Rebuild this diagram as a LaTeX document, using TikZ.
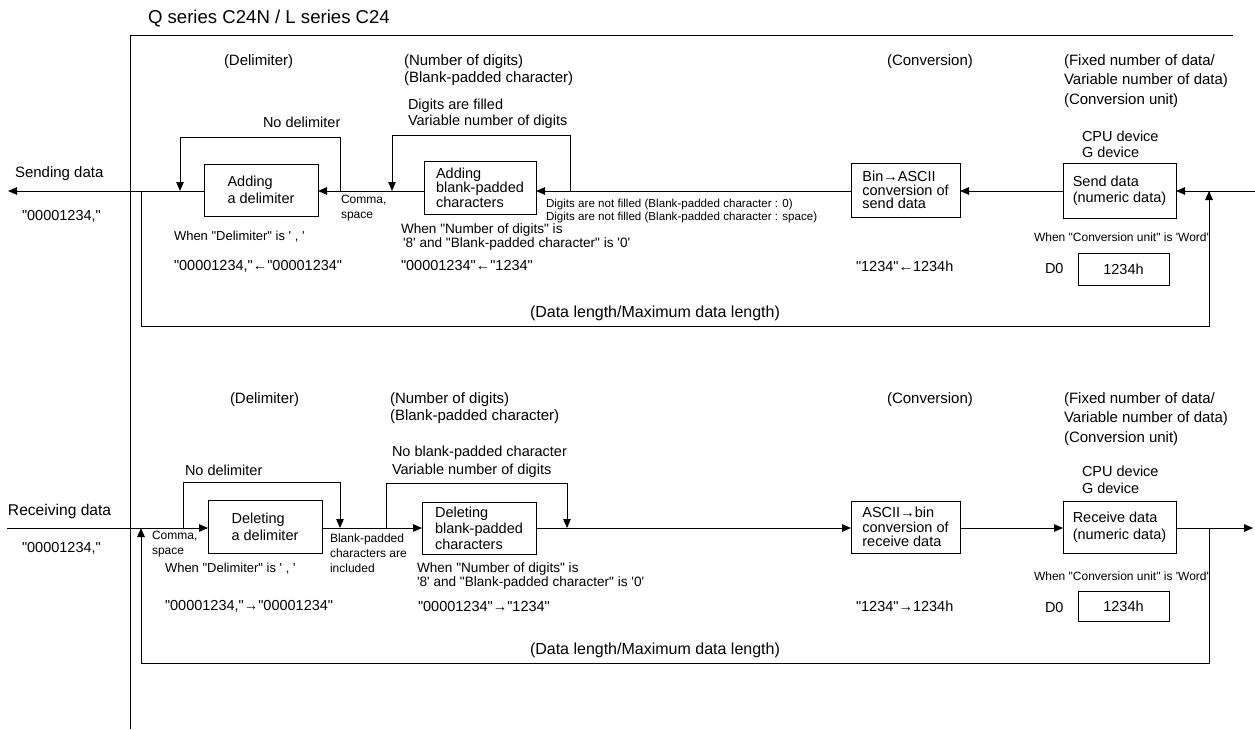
\documentclass[tikz,border=0pt]{standalone}
\usepackage{fontspec}
\newfontfamily\af{Liberation Sans}
\usetikzlibrary{arrows.meta}
\begin{document}
\begin{tikzpicture}[x=1pt,y=-1pt,
  every node/.style={inner sep=0pt,outer sep=0pt},
  ln/.style={line width=1pt},
  arr/.style={ln,-{Triangle[length=9pt,width=7.5pt]}},
  ttl/.style={anchor=west,font=\af\fontsize{18.6}{21}\selectfont},
  hdr/.style={anchor=west,align=left,font=\af\fontsize{15}{#1}\selectfont},
  hdr/.default=17,
  lbl/.style={anchor=west,align=left,font=\af\fontsize{14.5}{#1}\selectfont},
  lbl/.default=16,
  nte/.style={anchor=west,align=left,font=\af\fontsize{13}{#1}\selectfont},
  nte/.default=14,
  sml/.style={anchor=west,align=left,font=\af\fontsize{12}{#1}\selectfont},
  sml/.default=15,
  boxn/.style={draw,line width=1pt,align=left,font=\af\fontsize{14.5}{#1}\selectfont},
  boxn/.default=16,
  valbox/.style={draw,line width=1pt,font=\af\fontsize{14.5}{16}\selectfont,minimum width=91pt}
]
\useasboundingbox (0,0) rectangle (1255,729);

% ---------- frame ----------
\coordinate (F1) at (1233,35);
\coordinate (F2) at (130,35);
\coordinate (F3) at (130,729);
\draw[ln] (F1) -- (F2) -- (F3);
\node[ttl] (title) at (148,19) {Q series C24N / L series C24};

% ================= SENDING =================
\node[hdr] (hd1) at (224,62) {(Delimiter)};
\node[hdr] (hn1) at (404,70.5) {(Number of digits)\\(Blank-padded character)};
\node[hdr] (hc1) at (887,62) {(Conversion)};
\node[hdr=19.5] (hf1) at (1064,81) {(Fixed number of data/\\Variable number of data)\\(Conversion unit)};

\node[lbl] (nd1) at (263,122) {No delimiter};
\node[lbl] (df1) at (408,114) {Digits are filled\\Variable number of digits};
\node[lbl] (cpu1) at (1082,144) {CPU device\\G device};

\node[hdr] (snd) at (15,174) {Sending data};
\node[lbl] (sv) at (22,216) {"00001234,"};

\node[boxn=17,minimum width=114pt,minimum height=52pt] (adddelim) at (261,190) {Adding\\a delimiter};
\node[boxn=13.5,minimum width=112pt,minimum height=53pt] (addblank) at (480,187.5) {Adding\\blank-padded\\characters};
\node[boxn=13.5,minimum width=109pt,minimum height=54pt] (bin) at (905.5,190) {Bin→ASCII\\conversion of\\send data};
\node[boxn=16,minimum width=113pt,minimum height=55pt] (send) at (1119.5,190.5) {Send data\\(numeric data)};
\node[valbox,minimum height=32pt] (val1) at (1123.5,269) {1234h};

\node[sml] (cm1) at (341,208.5) {Comma,\\space};
\node[anchor=west,align=left,font=\af\fontsize{11.6}{13}\selectfont] (dnf) at (546,210.5) {Digits are not filled (Blank-padded character : 0)\\Digits are not filled (Blank-padded character : space)};
\node[nte] (wd1) at (174,237) {When "Delimiter" is ' , '};
\node[anchor=west,align=left,font=\af\fontsize{13.6}{14}\selectfont] (wn1) at (401,237) {When "Number of digits" is\\\hspace*{2pt}'8' and "Blank-padded character" is '0'};
\node[sml] (wc1) at (1034,237) {When "Conversion unit" is 'Word'};
\node[lbl] (ex1) at (174,266) {"00001234,"←"00001234"};
\node[lbl] (ex2) at (401,266) {"00001234"←"1234"};
\node[lbl] (ex3) at (856,266) {"1234"←1234h};
\node[lbl] (d01) at (1045,269) {D0};
\node[anchor=west,font=\af\fontsize{16}{18}\selectfont] (dl1) at (530,313) {(Data length/Maximum data length)};

% lines (sending)
\coordinate (L1) at (0,191);
\coordinate (sout) at (8,191);
\coordinate (sin) at (1255,191);
\draw[arr] (adddelim.west |- L1) -- (sout);
\draw[arr] (addblank.west |- L1) -- (adddelim.east |- L1);
\draw[arr] (bin.west |- L1) -- (addblank.east |- L1);
\draw[arr] (send.west |- L1) -- (bin.east |- L1);
\draw[arr] (sin) -- (send.east |- L1);
\coordinate (a1) at (340,191); \coordinate (a2) at (340,137);
\coordinate (a3) at (180,137); \coordinate (a4) at (180,191);
\draw[arr] (a1) -- (a2) -- (a3) -- (a4);
\coordinate (b1) at (570,191); \coordinate (b2) at (570,135);
\coordinate (b3) at (392,135); \coordinate (b4) at (392,191);
\draw[arr] (b1) -- (b2) -- (b3) -- (b4);
\coordinate (c1) at (141,191); \coordinate (c2) at (141,326);
\coordinate (c3) at (1209,326); \coordinate (c4) at (1209,191);
\draw[arr] (c1) -- (c2) -- (c3) -- (c4);

% ================= RECEIVING =================
\node[hdr] (hd2) at (230,400) {(Delimiter)};
\node[hdr] (hn2) at (390,408.5) {(Number of digits)\\(Blank-padded character)};
\node[hdr] (hc2) at (887,400) {(Conversion)};
\node[hdr=19.5] (hf2) at (1064,419) {(Fixed number of data/\\Variable number of data)\\(Conversion unit)};

\node[lbl] (nd2) at (185,470) {No delimiter};
\node[lbl=18] (nb2) at (392,462) {No blank-padded character\\Variable number of digits};
\node[lbl=17] (cpu2) at (1082,479.5) {CPU device\\G device};

\node[anchor=west,font=\af\fontsize{15.6}{18}\selectfont] (rcv) at (8,511) {Receiving data};
\node[lbl] (rv) at (22,548) {"00001234,"};

\node[boxn=17,minimum width=114pt,minimum height=53pt] (deldelim) at (265,526.5) {Deleting\\a delimiter};
\node[boxn=16,minimum width=114pt,minimum height=52pt] (delblank) at (479,528) {Deleting\\blank-padded\\characters};
\node[boxn=14.5,minimum width=109pt,minimum height=52pt] (ascii) at (905.5,527) {ASCII→bin\\conversion of\\receive data};
\node[boxn=17,minimum width=113pt,minimum height=52pt] (recv) at (1119.5,527) {Receive data\\(numeric data)};
\node[valbox,minimum height=30pt] (val2) at (1123.5,606) {1234h};

\node[sml] (cm2) at (152,544.5) {Comma,\\space};
\node[sml] (bp2) at (330,553) {Blank-padded\\characters are\\included};
\node[nte] (wd2) at (165,569) {When "Delimiter" is ' , '};
\node[anchor=west,align=left,font=\af\fontsize{13.6}{14}\selectfont] (wn2) at (417,576) {When "Number of digits" is\\'8' and "Blank-padded character" is '0'};
\node[sml] (wc2) at (1034,576) {When "Conversion unit" is 'Word'};
\node[lbl] (ex4) at (165,606) {"00001234,"→"00001234"};
\node[lbl] (ex5) at (418,606) {"00001234"→"1234"};
\node[lbl] (ex6) at (856,606) {"1234"→1234h};
\node[lbl] (d02) at (1045,607) {D0};
\node[anchor=west,font=\af\fontsize{16}{18}\selectfont] (dl2) at (530,650) {(Data length/Maximum data length)};

% lines (receiving)
\coordinate (L2) at (0,528);
\coordinate (rin) at (7,528);
\coordinate (rout) at (1253,528);
\draw[arr] (rin) -- (deldelim.west |- L2);
\draw[arr] (deldelim.east |- L2) -- (delblank.west |- L2);
\draw[arr] (delblank.east |- L2) -- (ascii.west |- L2);
\draw[arr] (ascii.east |- L2) -- (recv.west |- L2);
\draw[arr] (recv.east |- L2) -- (rout);
\coordinate (d1) at (183,528); \coordinate (d2) at (183,482);
\coordinate (d3) at (340,482); \coordinate (d4) at (340,528);
\draw[arr] (d1) -- (d2) -- (d3) -- (d4);
\coordinate (e1) at (386,528); \coordinate (e2) at (386,483);
\coordinate (e3) at (567,483); \coordinate (e4) at (567,528);
\draw[arr] (e1) -- (e2) -- (e3) -- (e4);
\coordinate (g1) at (1209,528); \coordinate (g2) at (1209,663);
\coordinate (g3) at (141,663); \coordinate (g4) at (141,528);
\draw[arr] (g1) -- (g2) -- (g3) -- (g4);
\end{tikzpicture}
\end{document}
